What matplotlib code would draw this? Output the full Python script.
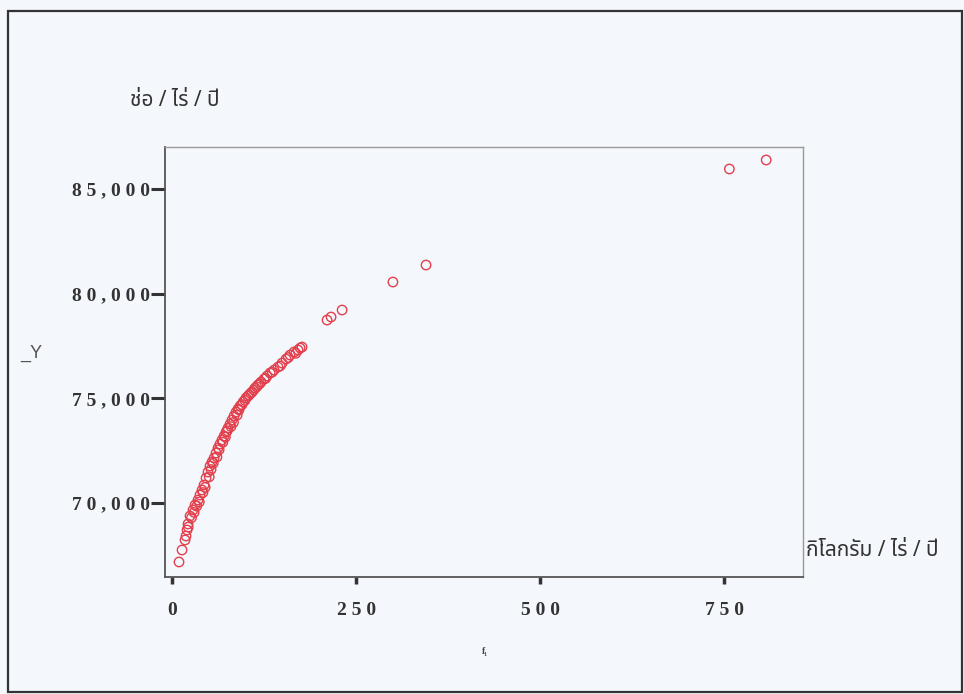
import matplotlib
matplotlib.use('Agg')
from matplotlib import pyplot as plt
from matplotlib.patches import Rectangle
from matplotlib.ticker import FuncFormatter

# dense part of the curve (kg/rai/year vs bunches/rai/year)
x_main = [9.5, 13.6, 17.7, 19.0, 20.4, 21.7, 24.5, 28.5, 31.3, 35.3, 38.0, 40.8,
          43.5, 46.2, 48.9, 51.6, 54.3, 57.1, 59.8, 62.5, 65.2, 67.9, 70.7, 73.4,
          76.1, 78.8, 81.5, 84.2, 87.0, 89.7, 92.4, 96.5, 100.5, 104.6, 108.7,
          112.8, 116.8, 120.9, 125.0, 129.1, 133.2, 138.6, 144.0, 149.5, 154.9,
          160.3, 165.8, 171.2, 176.6]
y_main = [67182, 67755, 68233, 68424, 68710, 68997, 69379, 69666, 69904, 70143,
          70382, 70621, 70860, 71194, 71481, 71767, 71958, 72149, 72388, 72627,
          72818, 73009, 73200, 73391, 73582, 73773, 73964, 74155, 74346, 74489,
          74633, 74824, 75015, 75158, 75301, 75492, 75636, 75779, 75922, 76066,
          76209, 76352, 76495, 76686, 76877, 77068, 77212, 77307, 77450]
# second row of the thick band
x_band = [22.0, 26.5, 30.0, 33.5, 37.0, 42.0, 45.0, 50.5, 53.0, 56.0, 61.0,
          64.0, 69.0, 72.5, 75.0, 80.0, 83.5, 88.5, 91.0, 95.0, 99.0, 103.0,
          107.0, 111.0, 115.0, 119.0, 127.0, 136.0, 147.0, 158.0, 168.0, 174.0]
y_band = [68850, 69300, 69550, 69850, 70050, 70500, 70750, 71250, 71600, 71900,
          72200, 72550, 72900, 73150, 73450, 73650, 73850, 74200, 74450, 74700,
          74900, 75100, 75250, 75400, 75550, 75700, 75950, 76250, 76550, 76950,
          77150, 77400]
# sparse upper points
x_far = [210.6, 216.0, 231.0, 300.0, 345.0, 757.0, 807.0]
y_far = [78740, 78883, 79218, 80555, 81367, 85955, 86385]

x_ticks = [0, 250, 500, 750]
y_ticks = [70000, 75000, 80000, 85000]

bg = '#f4f7fc'
red = '#e2404c'

fig = plt.figure(figsize=(9.64, 6.94), dpi=100, facecolor=bg)
ax = fig.add_axes([0.1712, 0.1686, 0.6618, 0.6196], facecolor=bg)

ax.scatter(x_main + x_band + x_far, y_main + y_band + y_far, s=46,
           facecolors='none', edgecolors=red, linewidths=1.0, zorder=3)

ax.set_xlim(-9.5, 857)
ax.set_ylim(66466, 87006)
ax.set_xticks(x_ticks)
ax.set_yticks(y_ticks)

def spaced(v, pos):
    s = '{:,}'.format(int(v))
    return ' '.join(s)

ax.xaxis.set_major_formatter(FuncFormatter(spaced))
ax.yaxis.set_major_formatter(FuncFormatter(spaced))

for lab in ax.get_xticklabels() + ax.get_yticklabels():
    lab.set_fontfamily('Liberation Serif')
    lab.set_fontweight('bold')
    lab.set_fontsize(14)
    lab.set_color('#333333')

ax.tick_params(axis='y', direction='out', length=10, width=2.2, pad=1, color='#333333')
ax.tick_params(axis='x', direction='out', length=5, width=2.5, pad=13, color='#333333')

for side in ['left', 'bottom']:
    ax.spines[side].set_color('#555555')
    ax.spines[side].set_linewidth(1.3)
for side in ['top', 'right']:
    ax.spines[side].set_color('#999999')
    ax.spines[side].set_linewidth(1.0)

thai = ['Noto Sans Thai', 'Loma', 'Garuda', 'DejaVu Sans', 'Noto Sans']
fig.text(130 / 964, 1 - 100 / 694, 'ช่อ / ไร่ / ปี', family=thai, fontsize=15,
         fontweight='bold', color='#333333', va='center', ha='left')
fig.text(806 / 964, 1 - 551 / 694, 'กิโลกรัม / ไร่ / ปี', family=thai, fontsize=15,
         fontweight='bold', color='#333333', va='center', ha='left')
fig.text(20 / 964, 1 - 353 / 694, '_Y', family='Liberation Sans', fontsize=13,
         color='#555555', va='center', ha='left')
fig.text(485 / 964, 1 - 652 / 694, 'f₁', family='Liberation Serif', fontsize=7,
         fontweight='bold', color='#444444', va='center', ha='center')

# outer frame of the chart window
fig.patches.append(Rectangle((8 / 964, 2 / 694), 954 / 964, 681 / 694,
                             transform=fig.transFigure, fill=False,
                             edgecolor='#333333', linewidth=1.6))

fig.savefig('out.png', dpi=100, facecolor=bg)
